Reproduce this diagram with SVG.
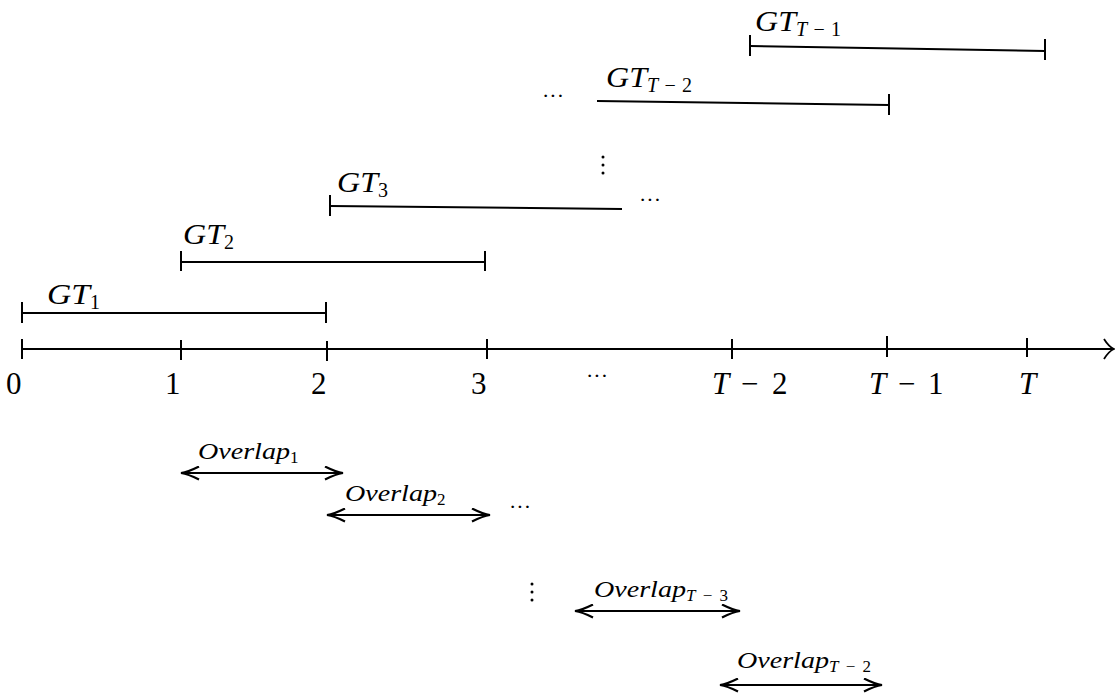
<svg xmlns="http://www.w3.org/2000/svg" width="1116" height="695" viewBox="0 0 1116 695">
<style>
.ln{stroke:#000;stroke-width:2;fill:none}
.tk{stroke:#000;stroke-width:2}
.num{font-family:"Liberation Serif",serif;font-size:31px;fill:#000}
.it{font-family:"Liberation Serif",serif;font-style:italic;font-size:29px;fill:#000}
.sub{font-family:"Liberation Serif",serif;font-style:normal;font-size:20px;fill:#000}
.ov{font-family:"Liberation Serif",serif;font-style:italic;font-size:24px;fill:#000}
.ovs{font-family:"Liberation Serif",serif;font-style:normal;font-size:17px;fill:#000}
.i{font-style:italic}
.dots{font-family:"Liberation Serif",serif;font-size:22px;fill:#000}
</style>
<defs>
<marker id="ah" viewBox="0 0 12 22" refX="11" refY="11" markerWidth="12" markerHeight="22" markerUnits="userSpaceOnUse" orient="auto-start-reverse">
<path d="M1,1 Q6,9 11,11 Q6,13 1,21" fill="none" stroke="#000" stroke-width="1.8"/>
</marker>
<marker id="ov" viewBox="0 0 20 15" refX="19" refY="7.5" markerWidth="20" markerHeight="15" markerUnits="userSpaceOnUse" orient="auto-start-reverse">
<path d="M1,1 Q12,6.5 19,7.5 Q12,8.5 1,14" fill="none" stroke="#000" stroke-width="2.2"/>
</marker>
</defs>
<g id="connectors">
<g id="axis">
<line class="ln" x1="22" y1="349" x2="1114" y2="349" marker-end="url(#ah)"/>
<line class="tk" x1="22" y1="339" x2="22" y2="359"/>
<line class="tk" x1="181" y1="340" x2="181" y2="360"/>
<line class="tk" x1="327" y1="341" x2="327" y2="361"/>
<line class="tk" x1="487" y1="339" x2="487" y2="359"/>
<line class="tk" x1="732" y1="339" x2="732" y2="359"/>
<line class="tk" x1="887" y1="336" x2="887" y2="357"/>
<line class="tk" x1="1027" y1="338" x2="1027" y2="357"/>
</g>
<g id="gt-lines">
<line class="ln" x1="22" y1="313" x2="326" y2="313"/>
<line class="tk" x1="22" y1="302" x2="22" y2="323"/>
<line class="tk" x1="326" y1="302" x2="326" y2="323"/>
<line class="ln" x1="181" y1="262" x2="485" y2="262"/>
<line class="tk" x1="181" y1="251" x2="181" y2="271"/>
<line class="tk" x1="485" y1="251" x2="485" y2="271"/>
<line class="ln" x1="330" y1="206" x2="622" y2="209"/>
<line class="tk" x1="330" y1="195" x2="330" y2="216"/>
<line class="ln" x1="597" y1="101" x2="889" y2="105"/>
<line class="tk" x1="889" y1="94" x2="889" y2="115"/>
<line class="ln" x1="750" y1="46" x2="1045" y2="51"/>
<line class="tk" x1="750" y1="35" x2="750" y2="56"/>
<line class="tk" x1="1045" y1="39" x2="1045" y2="60"/>
</g>
<g id="overlap-arrows">
<line class="ln" x1="181" y1="473" x2="343" y2="473" marker-start="url(#ov)" marker-end="url(#ov)"/>
<line class="ln" x1="327" y1="515" x2="490" y2="515" marker-start="url(#ov)" marker-end="url(#ov)"/>
<line class="ln" x1="575" y1="611" x2="740" y2="611" marker-start="url(#ov)" marker-end="url(#ov)"/>
<line class="ln" x1="720" y1="685" x2="882" y2="685" marker-start="url(#ov)" marker-end="url(#ov)"/>
</g>
</g>
<g id="axis-labels">
<text class="num" x="6" y="394">0</text>
<text class="num" x="165" y="394">1</text>
<text class="num" x="311" y="394">2</text>
<text class="num" x="471" y="394">3</text>
<text class="dots" x="586" y="383">···</text>
<text class="num"><tspan class="i" x="712" y="394">T</tspan><tspan x="741" y="394">−</tspan><tspan x="772" y="394">2</tspan></text>
<text class="num"><tspan class="i" x="869" y="394">T</tspan><tspan x="898" y="394">−</tspan><tspan x="928" y="394">1</tspan></text>
<text class="num i" x="1019" y="394">T</text>
</g>
<g id="gt1"><text class="it" x="47" y="304"><tspan textLength="43" lengthAdjust="spacingAndGlyphs">GT</tspan><tspan class="sub" dy="5">1</tspan></text></g>
<g id="gt2"><text class="it" x="183" y="244"><tspan textLength="41" lengthAdjust="spacingAndGlyphs">GT</tspan><tspan class="sub" dy="5">2</tspan></text></g>
<g id="gt3"><text class="it" x="337" y="192"><tspan textLength="41" lengthAdjust="spacingAndGlyphs">GT</tspan><tspan class="sub" dy="5">3</tspan></text></g>
<g id="gtT2"><text class="it" x="606" y="87"><tspan textLength="41" lengthAdjust="spacingAndGlyphs">GT</tspan><tspan class="sub" dy="5" textLength="45"><tspan class="i">T</tspan>−2</tspan></text></g>
<g id="gtT1"><text class="it" x="755" y="31"><tspan textLength="41" lengthAdjust="spacingAndGlyphs">GT</tspan><tspan class="sub" dy="5" textLength="45"><tspan class="i">T</tspan>−1</tspan></text></g>
<g id="ellipses">
<text class="dots" x="542" y="103">···</text>
<text class="dots" x="639" y="207">···</text>
<text class="dots" x="509" y="514">···</text>
<circle cx="603" cy="157" r="1.5"/><circle cx="603" cy="165" r="1.5"/><circle cx="603" cy="173" r="1.5"/>
<circle cx="532" cy="584" r="1.5"/><circle cx="532" cy="592" r="1.5"/><circle cx="532" cy="600" r="1.5"/>
</g>
<g id="ov1"><text class="ov" x="198" y="459"><tspan textLength="92" lengthAdjust="spacingAndGlyphs">Overlap</tspan><tspan class="ovs" dy="4">1</tspan></text></g>
<g id="ov2"><text class="ov" x="345" y="501"><tspan textLength="92" lengthAdjust="spacingAndGlyphs">Overlap</tspan><tspan class="ovs" dy="4">2</tspan></text></g>
<g id="ovT3"><text class="ov" x="594" y="597"><tspan textLength="92" lengthAdjust="spacingAndGlyphs">Overlap</tspan><tspan class="ovs" dy="4" textLength="42"><tspan class="i">T</tspan>−3</tspan></text></g>
<g id="ovT2"><text class="ov" x="737" y="668"><tspan textLength="92" lengthAdjust="spacingAndGlyphs">Overlap</tspan><tspan class="ovs" dy="4" textLength="42"><tspan class="i">T</tspan>−2</tspan></text></g>
</svg>
